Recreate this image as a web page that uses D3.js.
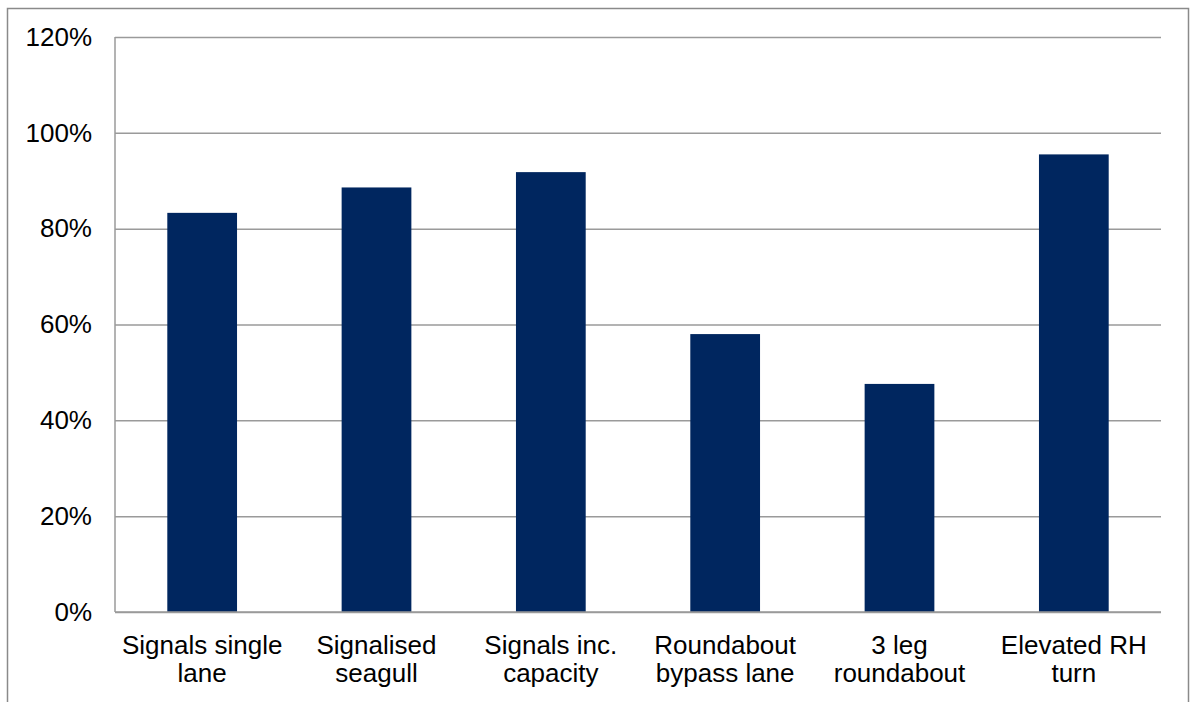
<!DOCTYPE html>
<html>
<head>
<meta charset="utf-8">
<script src="https://cdn.jsdelivr.net/npm/d3@7"></script>
<style>
  html, body { margin: 0; padding: 0; background: #fff; }
  svg { display: block; font-family: "Liberation Sans", Arial, sans-serif; }
</style>
</head>
<body>
<svg id="chart" width="1191" height="702"></svg>
<script>
// Junction types and their share (%)
const categories = [
  ["Signals single", "lane"],
  ["Signalised", "seagull"],
  ["Signals inc.", "capacity"],
  ["Roundabout", "bypass lane"],
  ["3 leg", "roundabout"],
  ["Elevated RH", "turn"]
];
const values = [83.3, 88.6, 91.8, 58.0, 47.6, 95.5];
const yTicks = [0, 20, 40, 60, 80, 100, 120];

const svg = d3.select("#chart");
const margin = { left: 115, top: 37, right: 1161, bottom: 612 };

// Outer chart frame (bottom edge runs past the window)
svg.append("rect")
  .attr("x", 7.5).attr("y", 8.5)
  .attr("width", 1181).attr("height", 720)
  .attr("fill", "none")
  .attr("stroke", "#8a8a8a")
  .attr("stroke-width", 1.5);

const x = d3.scaleBand()
  .domain(categories.map((d, i) => i))
  .range([margin.left, margin.right])
  .paddingInner(0.6)
  .paddingOuter(0.3);

const y = d3.scaleLinear()
  .domain([0, 120])
  .range([margin.bottom, margin.top]);

// Horizontal gridlines and tick labels
const yAxis = d3.axisLeft(y)
  .tickValues(yTicks)
  .tickSize(-(margin.right - margin.left))
  .tickPadding(23)
  .tickFormat(d => d + "%");

const gy = svg.append("g")
  .attr("transform", `translate(${margin.left},0)`)
  .call(yAxis);
gy.select(".domain").remove();
gy.selectAll(".tick line")
  .attr("stroke", "#9a9a9a")
  .attr("stroke-width", 1.5);
gy.selectAll(".tick text")
  .attr("fill", "#000")
  .style("font-size", "26px")
  .style("font-family", "'Liberation Sans', Arial, sans-serif");

// Vertical axis line on the left of the plot
svg.append("line")
  .attr("x1", margin.left).attr("x2", margin.left)
  .attr("y1", margin.top).attr("y2", margin.bottom)
  .attr("stroke", "#9a9a9a")
  .attr("stroke-width", 1.5);

// Bars
svg.append("g")
  .selectAll("rect")
  .data(values)
  .join("rect")
  .attr("x", (d, i) => x(i))
  .attr("y", d => y(d))
  .attr("width", x.bandwidth())
  .attr("height", d => y(0) - y(d))
  .attr("fill", "#00265f");

// Baseline over the bars
svg.append("line")
  .attr("x1", margin.left).attr("x2", margin.right)
  .attr("y1", y(0)).attr("y2", y(0))
  .attr("stroke", "#9a9a9a")
  .attr("stroke-width", 1.5);

// Two-line category labels
const labels = svg.append("g")
  .selectAll("text")
  .data(categories)
  .join("text")
  .attr("x", (d, i) => x(i) + x.bandwidth() / 2)
  .attr("y", 654)
  .attr("text-anchor", "middle")
  .attr("fill", "#000")
  .style("font-size", "26px");
labels.selectAll("tspan")
  .data(d => d)
  .join("tspan")
  .attr("x", function () { return d3.select(this.parentNode).attr("x"); })
  .attr("dy", (d, i) => i === 0 ? 0 : 28)
  .text(d => d);
</script>
</body>
</html>
